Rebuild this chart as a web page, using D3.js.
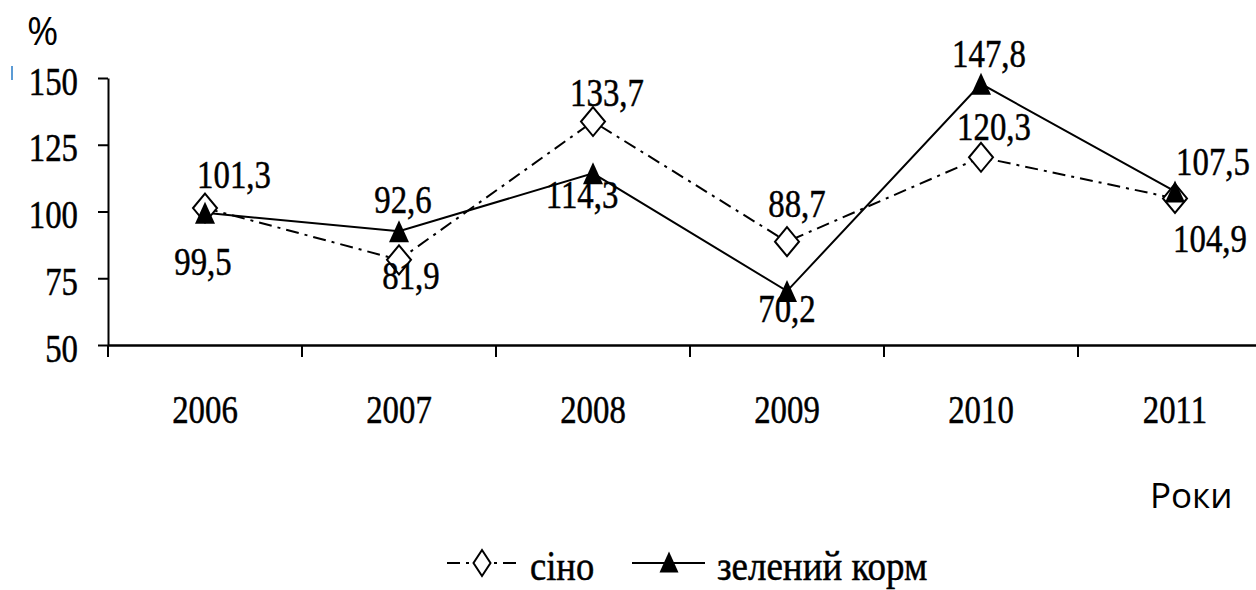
<!DOCTYPE html>
<html>
<head>
<meta charset="utf-8">
<script src="https://cdn.jsdelivr.net/npm/d3@7"></script>
<style>
  html, body { margin: 0; padding: 0; background: #fff; }
  svg { display: block; }
  .serif { font-family: "Liberation Serif", "DejaVu Serif", "Noto Serif", "Times New Roman", serif;
           stroke: #000; stroke-width: 0.5px; fill: #000; }
  .sans { font-family: "Open Sans", "Noto Sans", sans-serif; fill: #000; }
</style>
</head>
<body>
<svg id="chart" width="1256" height="590"></svg>
<script>
// Years on the horizontal axis
const years = ["2006", "2007", "2008", "2009", "2010", "2011"];
// Index values, % of the previous year
const hayValues = [101.3, 81.9, 133.7, 88.7, 120.3, 104.9];      // сіно
const greenValues = [99.5, 92.6, 114.3, 70.2, 147.8, 107.5];     // зелений корм
const yTicks = [50, 75, 100, 125, 150];
const seriesNames = ["сіно", "зелений корм"];

// Label offsets (dx from point centre, dy of baseline from point)
const hayLabelOffsets = [[29, -20], [12, 29], [14, -16], [10, -25], [13, -17], [35, 54]];
const greenLabelOffsets = [[-2, 62], [4, -18], [-11, 35], [0, 31], [8, -17], [38, -16]];

const fmt = v => d3.format(".1f")(v).replace(".", ",");
const SX = 0.8;   // condensed serif lettering

const svg = d3.select("#chart");

const x = d3.scaleBand().domain(years).range([108, 108 + 6 * 194]).padding(0);
const y = d3.scaleLinear().domain([50, 150]).range([345, 78]);
const cx = d => x(d) + x.bandwidth() / 2;

// small blue edge mark at the left
svg.append("rect").attr("x", 11).attr("y", 66).attr("width", 2).attr("height", 14)
  .attr("fill", "#5b9bd5");

// Y axis
const yAxis = svg.append("g").attr("transform", "translate(108,0)")
  .call(d3.axisLeft(y).tickValues(yTicks).tickSize(10).tickSizeOuter(0));
yAxis.attr("font-family", null).attr("font-size", null);
yAxis.select(".domain").attr("stroke", "#000").attr("stroke-width", 2);
yAxis.selectAll(".tick line").attr("stroke", "#000").attr("stroke-width", 2);
yAxis.selectAll(".tick text")
  .attr("class", "serif")
  .attr("x", 0).attr("dy", null).attr("y", 0)
  .attr("transform", `translate(-30,16) scale(${SX},1)`)
  .attr("text-anchor", "end")
  .style("font-size", "41px");

// X axis: line with ticks at category boundaries, labels at centres
const xAxis = svg.append("g").attr("transform", "translate(0,345)")
  .call(d3.axisBottom(x).tickSize(0).tickSizeOuter(0).tickFormat(""));
xAxis.select(".domain").attr("stroke", "#000").attr("stroke-width", 2.5);
xAxis.selectAll(".tick").remove();
const bounds = years.map(d => x(d));
xAxis.selectAll(".bound").data(bounds).join("line")
  .attr("x1", d => d).attr("x2", d => d).attr("y1", 0).attr("y2", 12)
  .attr("stroke", "#000").attr("stroke-width", 2);
svg.append("g").selectAll("text").data(years).join("text")
  .attr("class", "serif")
  .attr("transform", d => `translate(${cx(d)},423) scale(${SX},1)`)
  .attr("text-anchor", "middle")
  .style("font-size", "41px")
  .text(d => d);

// Axis titles
svg.append("text").attr("class", "sans").attr("x", 27).attr("y", 45)
  .style("font-size", "38px").text("%");
svg.append("text").attr("class", "sans").attr("x", 1150).attr("y", 508)
  .style("font-size", "35px").text("Роки");

// Lines
const hayData = years.map((d, i) => ({ year: d, v: hayValues[i] }));
const greenData = years.map((d, i) => ({ year: d, v: greenValues[i] }));
const line = d3.line().x(d => cx(d.year)).y(d => y(d.v));
const dashDot = "13,6,3,6";

svg.append("path").datum(hayData).attr("d", line)
  .attr("fill", "none").attr("stroke", "#000").attr("stroke-width", 2)
  .attr("stroke-dasharray", dashDot);
svg.append("path").datum(greenData).attr("d", line)
  .attr("fill", "none").attr("stroke", "#000").attr("stroke-width", 2);

// Markers
const diamond = (w, h) => `M0,${-h / 2}L${w / 2},0L0,${h / 2}L${-w / 2},0Z`;
const triangle = (w, h) => `M0,${-h / 2}L${w / 2},${h / 2}L${-w / 2},${h / 2}Z`;

svg.append("g").selectAll("path").data(hayData).join("path")
  .attr("transform", d => `translate(${cx(d.year)},${y(d.v)})`)
  .attr("d", diamond(24, 29))
  .attr("fill", "#fff").attr("stroke", "#000").attr("stroke-width", 2);
svg.append("g").selectAll("path").data(greenData).join("path")
  .attr("transform", d => `translate(${cx(d.year)},${y(d.v)})`)
  .attr("d", triangle(20, 22))
  .attr("fill", "#000");

// Value labels
function labels(data, offsets) {
  svg.append("g").selectAll("text").data(data).join("text")
    .attr("class", "serif")
    .attr("transform", (d, i) =>
      `translate(${cx(d.year) + offsets[i][0]},${y(d.v) + offsets[i][1]}) scale(${SX},1)`)
    .attr("text-anchor", "middle")
    .style("font-size", "41px")
    .text(d => fmt(d.v));
}
labels(hayData, hayLabelOffsets);
labels(greenData, greenLabelOffsets);

// Legend
const leg = svg.append("g");
leg.append("line").attr("x1", 447).attr("x2", 520).attr("y1", 563).attr("y2", 563)
  .attr("stroke", "#000").attr("stroke-width", 2).attr("stroke-dasharray", dashDot);
leg.append("path").attr("transform", "translate(482,563)").attr("d", diamond(17, 26))
  .attr("fill", "#fff").attr("stroke", "#000").attr("stroke-width", 2);
leg.append("text").attr("class", "serif")
  .attr("transform", "translate(530,580) scale(0.85,1)")
  .style("font-size", "43px").text(seriesNames[0]);
leg.append("line").attr("x1", 632).attr("x2", 705).attr("y1", 563).attr("y2", 563)
  .attr("stroke", "#000").attr("stroke-width", 2);
leg.append("path").attr("transform", "translate(669,562)").attr("d", triangle(19, 21))
  .attr("fill", "#000");
leg.append("text").attr("class", "serif")
  .attr("transform", "translate(717,580) scale(0.86,1)")
  .style("font-size", "43px").text(seriesNames[1]);
</script>
</body>
</html>
